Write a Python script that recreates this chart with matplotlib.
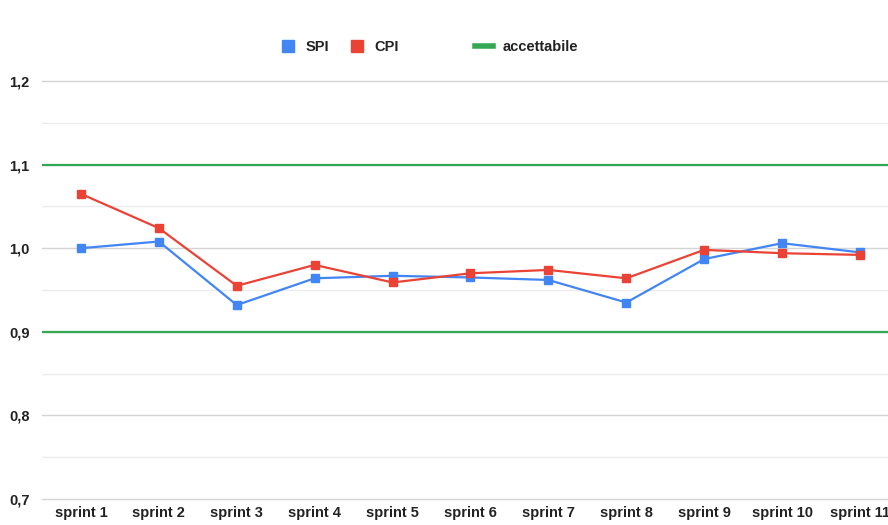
import matplotlib.pyplot as plt
from matplotlib.lines import Line2D
from matplotlib.ticker import FuncFormatter, MultipleLocator

# data
sprints = ['sprint 1', 'sprint 2', 'sprint 3', 'sprint 4', 'sprint 5', 'sprint 6',
           'sprint 7', 'sprint 8', 'sprint 9', 'sprint 10', 'sprint 11']
spi = [1.000, 1.008, 0.932, 0.964, 0.967, 0.965, 0.962, 0.935, 0.987, 1.006, 0.995]
cpi = [1.065, 1.024, 0.955, 0.980, 0.959, 0.970, 0.974, 0.964, 0.998, 0.994, 0.992]
soglie = [0.9, 1.1]  # limiti accettabili

BLUE = '#4285f4'
RED = '#ea4335'
GREEN = '#34a853'
TXT = '#222222'

plt.rcParams['font.family'] = ['Liberation Sans', 'DejaVu Sans']

fig = plt.figure(figsize=(8.88, 5.25), dpi=100)
ax = fig.add_axes([42 / 888, 26 / 525, 1 - 42 / 888, 418 / 525])

x = list(range(len(sprints)))

for s in soglie:
    ax.axhline(s, color=GREEN, lw=1.6, zorder=2)

ax.plot(x, spi, color=BLUE, lw=1.6, marker='s', ms=6, zorder=3)
ax.plot(x, cpi, color=RED, lw=1.6, marker='s', ms=6, zorder=4)

ax.set_ylim(0.7, 1.2)
ax.set_xlim(-0.5, (888 - 81) / 77.9)
ax.yaxis.set_major_locator(MultipleLocator(0.1))
ax.yaxis.set_minor_locator(MultipleLocator(0.05))
ax.yaxis.set_major_formatter(FuncFormatter(lambda v, p: f'{v:.1f}'.replace('.', ',')))
ax.grid(True, which='major', axis='y', color='#d4d4d4', lw=1, zorder=0)
ax.grid(True, which='minor', axis='y', color='#ececec', lw=1, zorder=0)
ax.set_xticks(x)
ax.set_xticklabels(sprints)
ax.tick_params(axis='both', which='both', length=0, labelsize=10.5, labelcolor=TXT)
ax.tick_params(axis='y', pad=9)
ax.tick_params(axis='x', pad=5)
for lab in ax.get_xticklabels() + ax.get_yticklabels():
    lab.set_fontweight('bold')
for sp in ax.spines.values():
    sp.set_visible(False)
# keep the gridlines at the axis limits visible (0,7 and 1,2)
for t in ax.yaxis.get_major_ticks():
    t.gridline.set_clip_on(False)

# legend
h1 = [Line2D([], [], color=BLUE, marker='s', ls='', ms=8),
      Line2D([], [], color=RED, marker='s', ls='', ms=8)]
leg1 = fig.legend(h1, ['SPI', 'CPI'], ncol=2, loc='center left',
                  bbox_to_anchor=(268 / 888, 1 - 47 / 525), frameon=False,
                  handlelength=1.0, handletextpad=0.7, columnspacing=1.4,
                  prop={'size': 10.5, 'weight': 'bold'})
h2 = [Line2D([], [], color=GREEN, lw=4)]
leg2 = fig.legend(h2, ['accettabile'], loc='center left',
                  bbox_to_anchor=(462 / 888, 1 - 47 / 525), frameon=False,
                  handlelength=1.2, handletextpad=0.7,
                  prop={'size': 10.5, 'weight': 'bold'})
for lg in (leg1, leg2):
    for t in lg.get_texts():
        t.set_color(TXT)

fig.savefig('out.png', dpi=100)
